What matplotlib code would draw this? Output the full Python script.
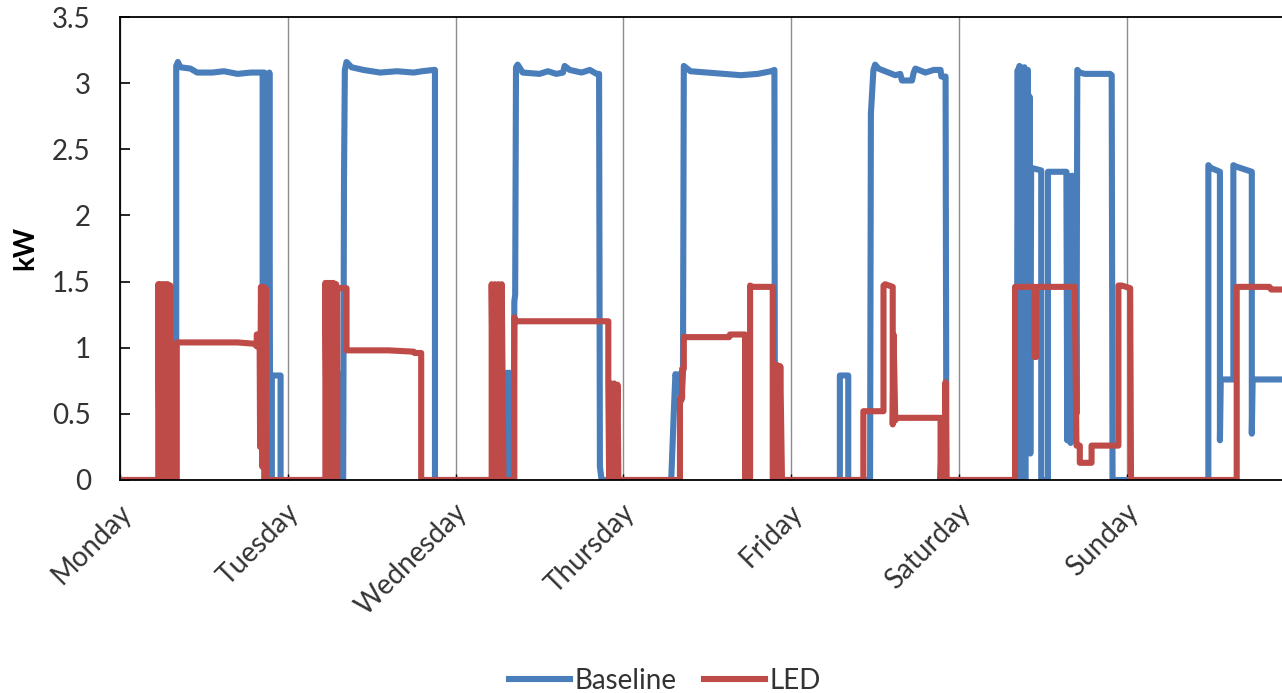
import matplotlib.pyplot as plt
import matplotlib.transforms as mtransforms

plt.rcParams['font.family'] = ['Lato', 'DejaVu Sans']

# time in days from Monday 00:00, power in kW
days = ['Monday', 'Tuesday', 'Wednesday', 'Thursday', 'Friday', 'Saturday', 'Sunday']

base_t = [0, 0.31, 0.31, 0.32, 0.32, 0.335, 0.335, 0.345, 0.36, 0.42, 0.46, 0.55, 0.62, 0.70, 0.78, 0.85,
          0.85, 0.86, 0.865, 0.875, 0.885, 0.89, 0.895, 0.905, 0.905, 0.957, 0.957,
          1.295, 1.295, 1.30, 1.30, 1.31, 1.315, 1.32, 1.33, 1.335, 1.34, 1.35, 1.38, 1.45, 1.55, 1.65, 1.75,
          1.80, 1.87, 1.877, 1.877,
          2.305, 2.305, 2.325, 2.325, 2.345, 2.35, 2.355, 2.36, 2.37, 2.40, 2.50, 2.55, 2.60, 2.64, 2.65,
          2.68, 2.75, 2.80, 2.84, 2.855, 2.86, 2.87,
          3.285, 3.30, 3.31, 3.32, 3.33, 3.345, 3.355, 3.36, 3.37, 3.40, 3.50, 3.60, 3.70, 3.80, 3.88,
          3.90, 3.903,
          4.29, 4.29, 4.34, 4.34, 4.47, 4.475, 4.49, 4.50, 4.52, 4.58, 4.62, 4.65, 4.66, 4.72, 4.73, 4.74,
          4.80, 4.85, 4.89, 4.895, 4.92, 4.925,
          5.344, 5.35, 5.355, 5.36, 5.365, 5.37, 5.375, 5.38, 5.385, 5.39, 5.395, 5.40, 5.405, 5.41, 5.415,
          5.42, 5.425, 5.43, 5.49, 5.49, 5.53, 5.53, 5.64, 5.645, 5.655, 5.665, 5.675, 5.685, 5.695, 5.70,
          5.705, 5.72, 5.75, 5.80, 5.90, 5.91, 5.915,
          6.486, 6.486, 6.50, 6.555, 6.555, 6.56, 6.635, 6.635, 6.65, 6.745, 6.745, 6.75, 6.95]
base_kw = [0, 0, 0.80, 0.80, 0, 0, 3.13, 3.16, 3.12, 3.11, 3.08, 3.08, 3.09, 3.07, 3.08, 3.08,
           0.30, 3.08, 0.10, 3.07, 0.05, 3.08, 0, 0, 0.79, 0.79, 0,
           0, 0.80, 0.80, 0, 0, 0.80, 0, 0, 2.30, 3.10, 3.16, 3.12, 3.10, 3.08, 3.09, 3.08,
           3.09, 3.10, 3.10, 0,
           0, 0.81, 0.81, 0, 0, 1.35, 1.40, 3.12, 3.14, 3.08, 3.07, 3.09, 3.07, 3.08, 3.13,
           3.10, 3.08, 3.10, 3.07, 3.07, 0.10, 0,
           0, 0.50, 0.80, 0.75, 0.80, 0.60, 0.80, 3.13, 3.12, 3.09, 3.08, 3.07, 3.06, 3.07, 3.09,
           3.10, 0,
           0, 0.79, 0.79, 0, 0, 2.77, 3.10, 3.14, 3.11, 3.08, 3.06, 3.07, 3.02, 3.02, 3.08, 3.11,
           3.08, 3.10, 3.10, 3.05, 3.05, 0,
           0, 3.10, 0.20, 3.13, 1.00, 3.12, 0, 3.10, 1.70, 3.12, 0, 3.10, 0.50, 3.10, 1.20,
           2.90, 0.20, 2.36, 2.34, 0, 0, 2.33, 2.33, 0.30, 2.30, 0.28, 2.30, 0.30, 2.00, 0.50,
           3.10, 3.08, 3.07, 3.07, 3.07, 3.06, 0,
           0, 2.38, 2.36, 2.33, 0.30, 0.76, 0.76, 2.38, 2.37, 2.33, 0.35, 0.76, 0.76]

led_t = [0, 0.228, 0.228, 0.235, 0.24, 0.248, 0.255, 0.262, 0.27, 0.278, 0.285, 0.292, 0.30, 0.308,
         0.338, 0.338, 0.70, 0.80, 0.815, 0.815, 0.832, 0.835, 0.84, 0.848, 0.855, 0.862, 0.868, 0.874,
         1.224, 1.224, 1.232, 1.24, 1.248, 1.256, 1.264, 1.272, 1.28, 1.288, 1.292, 1.295, 1.295, 1.35,
         1.35, 1.60, 1.75, 1.755, 1.795, 1.795,
         2.215, 2.215, 2.225, 2.235, 2.245, 2.255, 2.265, 2.275, 2.285, 2.35, 2.35, 2.36, 2.91, 2.91,
         2.915, 2.925, 2.935, 2.945, 2.955, 2.965, 2.97,
         3.337, 3.337, 3.35, 3.35, 3.36, 3.36, 3.63, 3.635, 3.725, 3.725, 3.755, 3.755, 3.77, 3.89, 3.89,
         3.915, 3.915, 3.925, 3.935, 3.945,
         4.43, 4.43, 4.55, 4.55, 4.56, 4.605, 4.605, 4.61, 4.62, 4.625, 4.89, 4.89, 4.90, 4.91, 4.92, 4.925,
         5.334, 5.334, 5.45, 5.45, 5.46, 5.46, 5.69, 5.70, 5.72, 5.72, 5.79, 5.79, 5.95, 5.95, 5.97, 6.02,
         6.025, 6.655, 6.655, 6.85, 6.86, 6.95]
led_kw = [0, 0, 1.48, 0, 1.48, 0, 1.48, 0, 1.48, 0, 1.48, 0, 1.47, 0,
          0, 1.04, 1.04, 1.03, 1.01, 1.10, 1.10, 0.25, 1.46, 0.10, 1.46, 0, 1.45, 0,
          0, 1.49, 0, 1.49, 0, 1.49, 0, 1.49, 0, 1.48, 0, 0, 1.45, 1.45,
          0.98, 0.98, 0.97, 0.96, 0.96, 0,
          0, 1.48, 0, 1.48, 0, 1.48, 0, 1.48, 0, 0, 1.23, 1.20, 1.20, 0.73,
          0, 0.73, 0, 0.73, 0, 0.72, 0,
          0, 0.62, 0.62, 0.84, 0.84, 1.08, 1.08, 1.10, 1.10, 0, 0, 1.47, 1.46, 1.46, 0,
          0, 0.87, 0, 0.86, 0,
          0, 0.52, 0.52, 1.47, 1.48, 1.46, 0.42, 1.10, 0.45, 0.47, 0.47, 0, 0.45, 0, 0.74, 0,
          0, 1.46, 1.46, 0.93, 0.93, 1.46, 1.46, 0.26, 0.26, 0.13, 0.13, 0.26, 0.26, 1.47, 1.47, 1.45,
          0, 0, 1.46, 1.46, 1.44, 1.44]

blue = '#4A7EBB'
red = '#BE4B48'

fig = plt.figure(figsize=(12.82, 6.93), dpi=100)
ax = fig.add_axes([120 / 1282, 1 - 480 / 693, 1162 / 1282, 463 / 693])

ax.plot(base_t, base_kw, color=blue, lw=4.4, label='Baseline', solid_joinstyle='round')
ax.plot(led_t, led_kw, color=red, lw=4.4, label='LED', solid_joinstyle='round')

ax.set_xlim(0, 1162 / 167.8)
ax.set_ylim(0, 3.5)
ax.set_yticks([0, 0.5, 1, 1.5, 2, 2.5, 3, 3.5])
ax.set_yticklabels(['0', '0.5', '1', '1.5', '2', '2.5', '3', '3.5'])
ax.set_xticks(range(7))
ax.set_xticklabels(days, rotation=45, ha='right', rotation_mode='anchor')
ax.tick_params(axis='y', direction='in', length=7, width=1.2, pad=21, labelsize=20, colors='black',
               labelcolor='#333333')
ax.tick_params(axis='x', direction='in', length=4, width=1, pad=14, labelsize=20, labelcolor='#333333')
offset = mtransforms.ScaledTranslation(-0.02, 0, fig.dpi_scale_trans)
for lab in ax.get_xticklabels():
    lab.set_transform(lab.get_transform() + offset)

ax.grid(axis='x', color='#8c8c8c', lw=1)
ax.set_axisbelow(True)
ax.spines['right'].set_visible(False)
for s in ['left', 'top', 'bottom']:
    ax.spines[s].set_color('black')
    ax.spines[s].set_linewidth(1.3)

ax.set_ylabel('kW', fontsize=20, fontweight='bold', labelpad=10)

fig.legend(loc='center', bbox_to_anchor=(665 / 1282, 1 - 681 / 693), ncol=2, frameon=False,
           fontsize=20, handlelength=2.2, handletextpad=0.15, columnspacing=1.0,
           labelcolor='#333333')

fig.savefig('out.png', dpi=100)
